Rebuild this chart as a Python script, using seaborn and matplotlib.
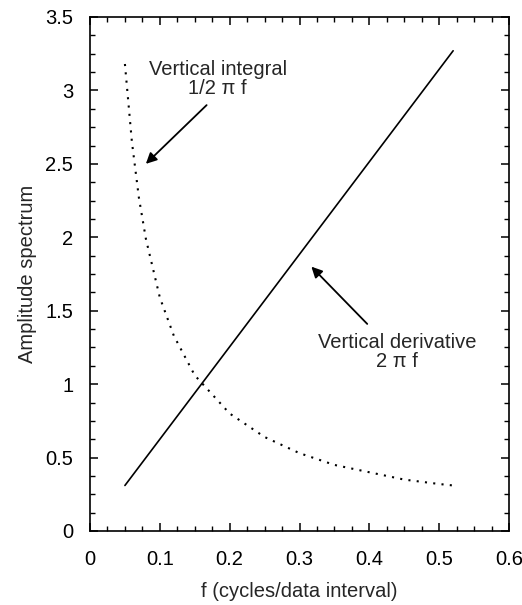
import matplotlib
matplotlib.use("Agg")
import matplotlib.pyplot as plt
from matplotlib.ticker import MultipleLocator
import seaborn as sns
import pandas as pd

# Data
deriv_f = [0.05, 0.52]
deriv_amp = [0.31, 3.27]

integ_f = [0.05, 0.06, 0.07, 0.08, 0.10, 0.12, 0.15, 0.20, 0.25, 0.30, 0.35, 0.40, 0.45, 0.50, 0.52]
integ_amp = [3.18, 2.65, 2.27, 1.99, 1.59, 1.33, 1.06, 0.80, 0.64, 0.53, 0.45, 0.40, 0.35, 0.32, 0.31]

x_ticks = [0, 0.1, 0.2, 0.3, 0.4, 0.5, 0.6]
x_tick_labels = ["0", "0.1", "0.2", "0.3", "0.4", "0.5", "0.6"]
y_ticks = [0, 0.5, 1, 1.5, 2, 2.5, 3, 3.5]
y_tick_labels = ["0", "0.5", "1", "1.5", "2", "2.5", "3", "3.5"]

sns.set_style("ticks")
plt.rcParams["font.family"] = ["Liberation Sans", "DejaVu Sans"]

FS = 14.5

fig = plt.figure(figsize=(5.22, 6.05), dpi=100)
ax = fig.add_axes([90/522, 74/605, 419/522, 514/605])

df_d = pd.DataFrame({"f": deriv_f, "amp": deriv_amp})
df_i = pd.DataFrame({"f": integ_f, "amp": integ_amp})
sns.lineplot(data=df_d, x="f", y="amp", ax=ax, color="black", linewidth=1.2)
sns.lineplot(data=df_i, x="f", y="amp", ax=ax, color="black", linewidth=1.5,
             linestyle=(0, (1, 3)))

ax.set_xlim(0, 0.6)
ax.set_ylim(0, 3.5)
ax.set_xticks(x_ticks)
ax.set_xticklabels(x_tick_labels)
ax.set_yticks(y_ticks)
ax.set_yticklabels(y_tick_labels)
ax.xaxis.set_minor_locator(MultipleLocator(0.025))
ax.yaxis.set_minor_locator(MultipleLocator(0.125))
ax.tick_params(which="both", direction="in", top=True, right=True, colors="black",
               labelsize=FS)
ax.tick_params(axis="y", which="major", length=6, width=1.1, pad=12)
ax.tick_params(axis="x", which="major", length=6, width=1.1, pad=14)
ax.tick_params(which="minor", length=3.5, width=1.0)
for s in ax.spines.values():
    s.set_linewidth(1.2)
    s.set_color("black")

ax.set_xlabel("f (cycles/data interval)", fontsize=FS, labelpad=9)
ax.set_ylabel("Amplitude spectrum", fontsize=FS, labelpad=6)

ax.annotate("", xy=(0.08, 2.50), xytext=(0.167, 2.90),
            arrowprops=dict(arrowstyle="-|>", color="black", lw=1.3,
                            mutation_scale=16, shrinkA=0, shrinkB=0))
ax.text(0.183, 3.08, "Vertical integral\n1/2 π f", ha="center", va="center",
        fontsize=FS, linespacing=1.0)

ax.annotate("", xy=(0.317, 1.80), xytext=(0.397, 1.41),
            arrowprops=dict(arrowstyle="-|>", color="black", lw=1.3,
                            mutation_scale=16, shrinkA=0, shrinkB=0))
ax.text(0.44, 1.22, "Vertical derivative\n2 π f", ha="center", va="center",
        fontsize=FS, linespacing=1.0)

fig.savefig("out.png", dpi=100)
